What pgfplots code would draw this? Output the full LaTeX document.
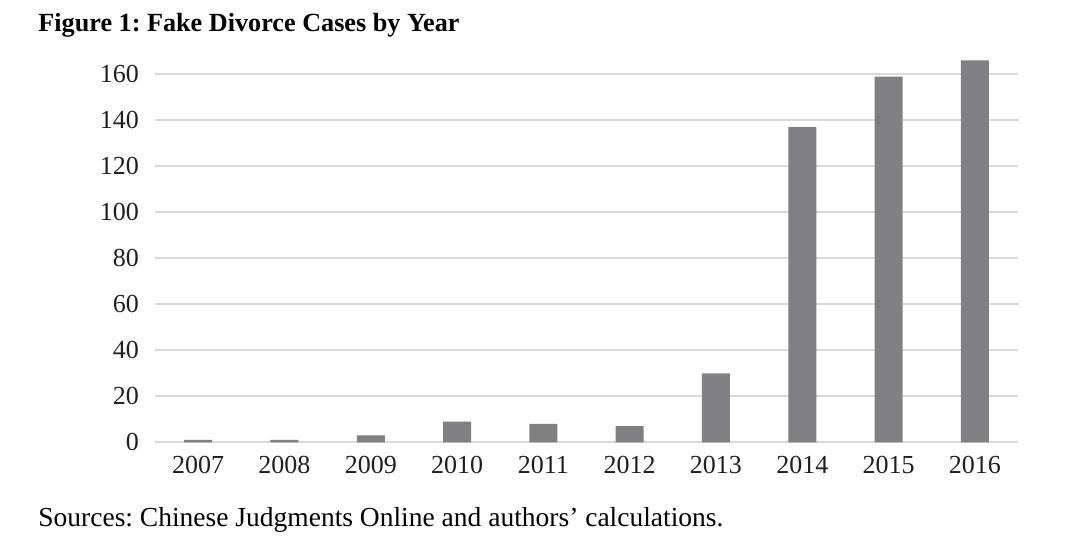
\documentclass[border=0pt]{standalone}
\usepackage{fontspec}
\setmainfont{Liberation Serif}
\usepackage{pgfplots}
\pgfplotsset{compat=1.18}
\definecolor{barfill}{RGB}{128,128,130}
\definecolor{gridgray}{RGB}{217,217,217}
\frenchspacing
\begin{document}
\begin{tikzpicture}
\path[use as bounding box] (0,0) rectangle (540bp,273.5bp);
\node[anchor=base west,inner sep=0,font=\fontsize{13.1bp}{15bp}\selectfont\bfseries] at (19bp,257.65bp) {Figure 1: Fake Divorce Cases by Year};
\node[anchor=base west,inner sep=0,font=\fontsize{13.75bp}{15bp}\selectfont] at (19bp,10.5bp) {Sources: Chinese Judgments Online and authors’ calculations.};
\begin{axis}[
    at={(77.5bp,52.35bp)}, anchor=south west,
    scale only axis,
    width=431.5bp, height=195.5bp,
    axis line style={draw=none},
    ybar, bar width=14bp,
    xmin=-0.5, xmax=9.5,
    ymin=0, ymax=170,
    xtick=data,
    xticklabels={2007,2008,2009,2010,2011,2012,2013,2014,2015,2016},
    ytick={0,20,...,160},
    ymajorgrids,
    grid style={gridgray, line width=0.8bp},
    major tick length=0pt,
    tick style={draw=none},
    /pgf/number format/assume math mode=true,
    ticklabel style={font=\fontsize{13bp}{15bp}\selectfont, text=black!88},
    yticklabel style={xshift=-4.5bp},
    xticklabel style={yshift=-3.2bp},
]
\addplot[fill=barfill, draw=none] coordinates {
    (0,1) (1,1) (2,3) (3,9) (4,8) (5,7) (6,30) (7,137) (8,159) (9,166)
};
\end{axis}
\end{tikzpicture}
\end{document}
